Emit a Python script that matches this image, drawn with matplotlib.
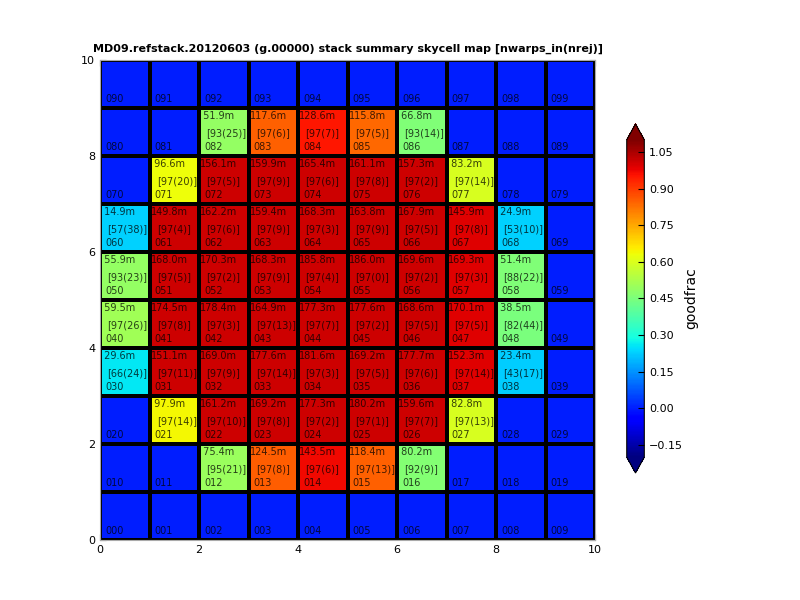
import numpy as np
import matplotlib
matplotlib.use("Agg")
import matplotlib.pyplot as plt

title = "MD09.refstack.20120603 (g.00000) stack summary skycell map [nwarps_in(nrej)]"
cbar_label = "goodfrac"
cbar_ticks = [-0.15, 0.0, 0.15, 0.30, 0.45, 0.60, 0.75, 0.90, 1.05]
axis_ticks = [0, 2, 4, 6, 8, 10]

# rows listed from bottom (row 0) to top (row 9)
goodfrac_rows = [
    [0, 0, 0, 0, 0, 0, 0, 0, 0, 0],
    [0, 0, 0.50, 0.855, 0.97, 0.85, 0.465, 0, 0, 0],
    [0, 0.64, 1.01, 1.01, 1.01, 1.01, 1.01, 0.595, 0, 0],
    [0.26, 1.01, 1.01, 1.01, 1.01, 1.01, 1.01, 0.99, 0.225, 0],
    [0.51, 1.01, 1.01, 1.01, 1.01, 1.01, 1.01, 0.99, 0.445, 0],
    [0.49, 1.01, 1.01, 1.01, 1.01, 1.01, 1.01, 0.99, 0.46, 0],
    [0.23, 1.01, 1.01, 1.01, 1.01, 1.01, 1.01, 0.99, 0.23, 0],
    [0, 0.63, 1.01, 1.01, 1.01, 1.01, 1.01, 0.595, 0, 0],
    [0, 0, 0.49, 0.85, 0.95, 0.84, 0.46, 0, 0, 0],
    [0, 0, 0, 0, 0, 0, 0, 0, 0, 0],
]

pixels_rows = [
    [None] * 10,
    [None, None, 75.4, 124.5, 143.5, 118.4, 80.2, None, None, None],
    [None, 97.9, 161.2, 169.2, 177.3, 180.2, 159.6, 82.8, None, None],
    [29.6, 151.1, 169.0, 177.6, 181.6, 169.2, 177.7, 152.3, 23.4, None],
    [59.5, 174.5, 178.4, 164.9, 177.3, 177.6, 168.6, 170.1, 38.5, None],
    [55.9, 168.0, 170.3, 168.3, 185.8, 186.0, 169.6, 169.3, 51.4, None],
    [14.9, 149.8, 162.2, 159.4, 168.3, 163.8, 167.9, 145.9, 24.9, None],
    [None, 96.6, 156.1, 159.9, 165.4, 161.1, 157.3, 83.2, None, None],
    [None, None, 51.9, 117.6, 128.6, 115.8, 66.8, None, None, None],
    [None] * 10,
]

nwarps_rows = [
    [None] * 10,
    [None, None, 95, 97, 97, 97, 92, None, None, None],
    [None, 97, 97, 97, 97, 97, 97, 97, None, None],
    [66, 97, 97, 97, 97, 97, 97, 97, 43, None],
    [97, 97, 97, 97, 97, 97, 97, 97, 82, None],
    [93, 97, 97, 97, 97, 97, 97, 97, 88, None],
    [57, 97, 97, 97, 97, 97, 97, 97, 53, None],
    [None, 97, 97, 97, 97, 97, 97, 97, None, None],
    [None, None, 93, 97, 97, 97, 93, None, None, None],
    [None] * 10,
]

nrej_rows = [
    [None] * 10,
    [None, None, 21, 8, 6, 13, 9, None, None, None],
    [None, 14, 10, 8, 2, 1, 7, 13, None, None],
    [24, 11, 9, 14, 3, 5, 6, 14, 17, None],
    [26, 8, 3, 13, 7, 2, 5, 5, 44, None],
    [23, 5, 2, 9, 4, 0, 2, 3, 22, None],
    [38, 4, 6, 9, 3, 9, 5, 8, 10, None],
    [None, 20, 5, 9, 6, 8, 2, 14, None, None],
    [None, None, 25, 6, 7, 5, 14, None, None, None],
    [None] * 10,
]

data = np.array(goodfrac_rows, dtype=float)
ny, nx = data.shape

fig = plt.figure(figsize=(8, 6), dpi=100)
ax = fig.add_axes([0.125, 0.1, 0.619, 0.8])
xe = np.arange(nx + 1)
ye = np.arange(ny + 1)
mesh = ax.pcolormesh(xe, ye, data, cmap="jet", vmin=-0.2, vmax=1.1,
                     edgecolors="k", linewidth=1.6)
ax.set_xlim(0, nx)
ax.set_ylim(0, ny)
ax.set_xticks(axis_ticks)
ax.set_yticks(axis_ticks)
ax.tick_params(direction="in", top=True, right=True, labelsize=8, length=4)
for s in ax.spines.values():
    s.set_color("#aaaaaa")
ax.set_title(title, fontsize=8, fontweight="bold", pad=6)

tkw = dict(fontsize=7, color="black", alpha=0.75, va="center", ha="left")
for r in range(ny):
    for c in range(nx):
        ax.text(c + 0.1, r + 0.19, "%03d" % (r * 10 + c), **tkw)
        pm = pixels_rows[r][c]
        if pm is not None:
            ax.text(c + 0.02, r + 0.83, "%5.1fm" % pm, **tkw)
            ax.text(c + 0.15, r + 0.48,
                    "[%d(%d)]" % (nwarps_rows[r][c], nrej_rows[r][c]), **tkw)

cax = fig.add_axes([0.7834, 0.2117, 0.022, 0.5817])
cb = fig.colorbar(mesh, cax=cax, extend="both", ticks=cbar_ticks)
cb.ax.set_yticklabels(["%.2f" % t if t >= 0 else "\u2212%.2f" % abs(t) for t in cbar_ticks])
cb.ax.tick_params(direction="in", labelsize=8, length=4)
cb.set_label(cbar_label, fontsize=10, labelpad=1)

fig.savefig("out.png", dpi=100)
